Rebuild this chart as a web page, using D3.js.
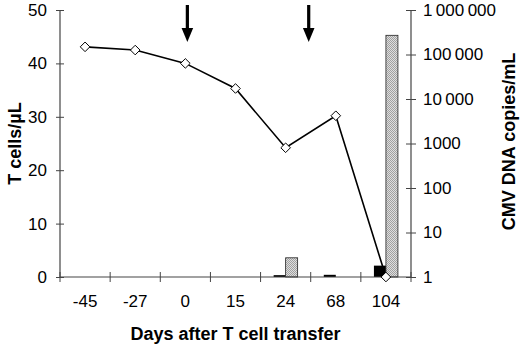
<!DOCTYPE html>
<html>
<head>
<meta charset="utf-8">
<script src="https://cdn.jsdelivr.net/npm/d3@7"></script>
<style>
  body { margin: 0; background: #fff; }
  svg { display: block; font-family: Arial, "Liberation Sans", Helvetica, sans-serif; }
</style>
</head>
<body>
<svg id="chart" width="520" height="345"></svg>
<script>
// ---- data ----
const categories = ["-45", "-27", "0", "15", "24", "68", "104"];
const tCells = [43.1, 42.5, 40.0, 35.3, 24.2, 30.2, 0];
const cmvCopies = [null, null, null, null, 2.7, null, 270000];
const blackBars = [null, null, null, null, 1.1, 1.12, 1.8];
const leftTicks = [0, 10, 20, 30, 40, 50];
const rightTickValues = [1, 10, 100, 1000, 10000, 100000, 1000000];
const rightTickLabels = ["1", "10", "100", "1000", "10\u2009000", "100\u2009000", "1\u2009000\u2009000"];
const arrowBandPositions = [2.54, 4.96];
const xTitle = "Days after T cell transfer";
const yLeftTitle = "T cells/\u00b5L";
const yRightTitle = "CMV DNA copies/mL";

// ---- layout ----
const W = 520, H = 345;
const margin = { top: 10, right: 109, bottom: 68, left: 60 };
const svg = d3.select("#chart");
const plotW = W - margin.left - margin.right;
const plotH = H - margin.top - margin.bottom;

const x = d3.scaleBand().domain(categories).range([margin.left, margin.left + plotW]).padding(0);
const yL = d3.scaleLinear().domain([0, 50]).range([margin.top + plotH, margin.top]);
const yR = d3.scaleLog().domain([1, 1000000]).range([margin.top + plotH, margin.top]);

const defs = svg.append("defs");
const pat = defs.append("pattern").attr("id", "stipple").attr("patternUnits", "userSpaceOnUse")
  .attr("width", 2).attr("height", 2);
pat.append("rect").attr("width", 2).attr("height", 2).attr("fill", "#dedede");
pat.append("rect").attr("x", 0).attr("y", 0).attr("width", 1).attr("height", 1).attr("fill", "#a0a0a0");
pat.append("rect").attr("x", 1).attr("y", 1).attr("width", 1).attr("height", 1).attr("fill", "#a0a0a0");

const axisColor = "#444";
const barW = 12;
const tickFont = 17;

// ---- bars ----
const baseY = yR(1);
categories.forEach((c, i) => {
  const cx = x(c) + x.bandwidth() / 2;
  if (blackBars[i] != null) {
    svg.append("rect").attr("x", cx - barW).attr("y", yR(blackBars[i]))
      .attr("width", barW).attr("height", baseY - yR(blackBars[i])).attr("fill", "#000");
  }
  if (cmvCopies[i] != null) {
    svg.append("rect").attr("x", cx).attr("y", yR(cmvCopies[i]))
      .attr("width", barW).attr("height", baseY - yR(cmvCopies[i]))
      .attr("fill", "url(#stipple)").attr("stroke", "#222").attr("stroke-width", 0.8);
  }
});

// ---- left axis ----
const gL = svg.append("g").attr("transform", `translate(${margin.left},0)`)
  .call(d3.axisLeft(yL).tickValues(leftTicks).tickSize(4).tickPadding(9).tickFormat(d3.format("d")));
gL.selectAll(".tick line").attr("x1", 4).attr("x2", -4);
gL.select(".domain").attr("d", `M0,${yL(0)}V${yL(50)}`);

// ---- right axis ----
const gR = svg.append("g").attr("transform", `translate(${margin.left + plotW},0)`)
  .call(d3.axisRight(yR).tickValues(rightTickValues).tickSize(4).tickPadding(8)
    .tickFormat((d, i) => rightTickLabels[i]));
gR.selectAll(".tick line").attr("x1", -5).attr("x2", 5);
gR.select(".domain").attr("d", `M0,${yR(1)}V${yR(1000000)}`);

// ---- bottom axis ----
const gB = svg.append("g").attr("transform", `translate(0,${margin.top + plotH})`)
  .call(d3.axisBottom(x).tickSize(0).tickPadding(18));
gB.select(".domain").attr("d", `M${margin.left},0H${margin.left + plotW}`);
const boundaries = categories.map(c => x(c)).concat([x.range()[1]]);
gB.selectAll(".bound").data(boundaries).join("line").attr("class", "bound")
  .attr("x1", d => d).attr("x2", d => d).attr("y1", -5).attr("y2", 5);

[gL, gR, gB].forEach(g => {
  g.selectAll("line").attr("stroke", axisColor).attr("stroke-width", 1);
  g.select(".domain").attr("stroke", axisColor).attr("stroke-width", 1.2);
  g.selectAll("text").attr("font-size", tickFont).attr("fill", "#000")
    .attr("font-family", "Arial, 'Liberation Sans', Helvetica, sans-serif");
});

// ---- line + markers ----
const pts = categories.map((c, i) => ({ c, v: tCells[i] }));
svg.append("path").datum(pts)
  .attr("fill", "none").attr("stroke", "#000").attr("stroke-width", 1.6)
  .attr("d", d3.line().x(d => x(d.c) + x.bandwidth() / 2).y(d => yL(d.v)));
svg.selectAll(".mk").data(pts).join("path").attr("class", "mk")
  .attr("transform", d => `translate(${x(d.c) + x.bandwidth() / 2},${yL(d.v)})`)
  .attr("d", "M0,-4.8L4.8,0L0,4.8L-4.8,0Z")
  .attr("fill", "#fff").attr("stroke", "#000").attr("stroke-width", 1);

// ---- arrows ----
arrowBandPositions.forEach(p => {
  const ax = x.range()[0] + p * x.step();
  svg.append("rect").attr("x", ax - 1.6).attr("y", 5).attr("width", 3.2).attr("height", 25).attr("fill", "#000");
  svg.append("path").attr("d", `M${ax - 5.8},28L${ax + 5.8},28L${ax},42Z`).attr("fill", "#000");
});

// ---- titles ----
svg.append("text").attr("x", margin.left + plotW / 2).attr("y", 340)
  .attr("text-anchor", "middle").attr("font-size", 18).attr("font-weight", "bold").text(xTitle);
svg.append("text").attr("transform", `translate(21,${margin.top + plotH / 2}) rotate(-90)`)
  .attr("text-anchor", "middle").attr("font-size", 18).attr("font-weight", "bold").text(yLeftTitle);
svg.append("text").attr("transform", `translate(515,${margin.top + plotH / 2 - 2}) rotate(-90)`)
  .attr("text-anchor", "middle").attr("font-size", 18).attr("font-weight", "bold").text(yRightTitle);
</script>
</body>
</html>
